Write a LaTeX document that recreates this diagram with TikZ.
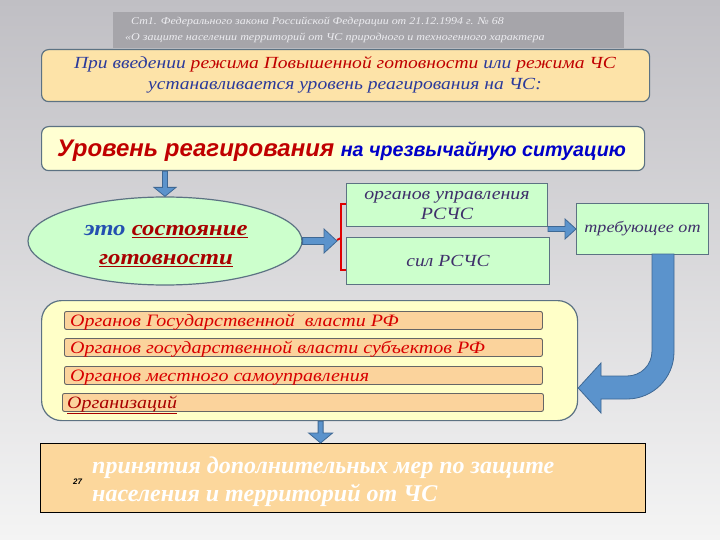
\documentclass[tikz,border=0pt]{standalone}
\usepackage{fontspec}
\setmainfont{Liberation Serif}[FakeStretch=1.15]
\newfontfamily\plainserif{Liberation Serif}
\newfontfamily\sansf{Liberation Sans}
\usetikzlibrary{calc,shapes.geometric}
\definecolor{bgtop}{HTML}{C0BFC4}
\definecolor{bgbot}{HTML}{F4F4F4}
\definecolor{hdrfill}{HTML}{A6A5AA}
\definecolor{hdrtext}{HTML}{ECECF0}
\definecolor{edge}{HTML}{5C7283}
\definecolor{orA}{HTML}{FDE3A8}
\definecolor{orB}{HTML}{FBD39C}
\definecolor{orC}{HTML}{FCD79C}
\definecolor{yelA}{HTML}{FFFFD2}
\definecolor{yelB}{HTML}{FFFFC8}
\definecolor{grn}{HTML}{CCFFCC}
\definecolor{arrfill}{HTML}{5B93CC}
\definecolor{arredge}{HTML}{3E6894}
\definecolor{txred}{HTML}{C00000}
\definecolor{txdred}{HTML}{A80000}
\definecolor{txblue}{HTML}{2B3A9B}
\definecolor{txsblue}{HTML}{0000C8}
\definecolor{txpur}{HTML}{3F2F6A}
\definecolor{txeto}{HTML}{2450B0}
\definecolor{brred}{HTML}{E00000}
\definecolor{barred}{HTML}{D80000}
\tikzset{
  rbox/.style={draw=edge, line width=1.2pt, rounded corners=7pt, anchor=north west, inner sep=0pt},
  gbox/.style={draw=edge, line width=1pt, fill=grn, anchor=north west, inner sep=0pt, align=center, text=txpur},
  barbox/.style={draw=black!60, line width=0.9pt, fill=orB, rounded corners=2pt, anchor=north west, inner sep=0pt, minimum width=478pt, minimum height=18pt},
  bartext/.style={anchor=base west, text=barred, inner sep=0pt, font=\fontsize{17.4}{19}\selectfont\itshape},
  bottext/.style={anchor=base west, inner sep=0pt, text=white, font=\plainserif\fontsize{24}{28}\selectfont\bfseries\itshape},
  barrow/.style={fill=arrfill, draw=arredge, line width=0.8pt, line join=miter},
}
\begin{document}
\begin{tikzpicture}[x=1pt,y=-1pt]
\useasboundingbox (0,0) rectangle (720,540);
\shade[top color=bgtop, bottom color=bgbot] (0,0) rectangle (720,540);

% header
\node[fill=hdrfill, anchor=north west, minimum width=511pt, minimum height=36pt, inner sep=0pt] (hdr) at (113,12) {};
\node[anchor=base west, inner sep=0pt, text=hdrtext, font=\fontsize{10.4}{12}\selectfont\itshape] (hdr1) at (131,25) {Ст1. Федерального закона Российской Федерации от 21.12.1994 г. № 68};
\node[anchor=base west, inner sep=0pt, text=hdrtext, font=\fontsize{10.5}{12}\selectfont\itshape] (hdr2) at (125,41) {«О защите населении территорий от ЧС природного и техногенного характера};

% intro box
\node[rbox, fill=orA, minimum width=608pt, minimum height=52pt] (intro) at (41,49) {};
\node[inner sep=0pt, align=center, font=\fontsize{17}{21}\selectfont\itshape, text=txblue] (introtxt) at (345,75)
 {При введении \textcolor{txred}{режима Повышенной готовности} или \textcolor{txred}{режима ЧС}\\устанавливается уровень реагирования на ЧС:};

% level box
\node[rbox, fill=yelA, minimum width=603pt, minimum height=44pt] (lvl) at (41,126) {};
\node[anchor=base west, inner sep=0pt] (lvltxt) at (57,157)
 {\sansf\bfseries\itshape\fontsize{24}{26}\selectfont\textcolor{txred}{Уровень реагирования} \fontsize{19.7}{22}\selectfont\textcolor{txsblue}{на чрезвычайную ситуацию}};

% ellipse
\node[ellipse, draw=edge, line width=1.2pt, fill=grn, minimum width=274pt, minimum height=88pt, inner sep=0pt] (ell) at (165,241) {};
\node[inner sep=0pt, align=center, font=\fontsize{21.5}{29}\selectfont\bfseries\itshape] (elltxt) at (166,246)
 {\textcolor{txeto}{это} \textcolor{txdred}{\underline{состояние}}\\\textcolor{txdred}{\underline{готовности}}};

% bracket
\coordinate (brmid) at (337,240);
\draw[brred, line width=2.6pt, line cap=butt] (346,204) -- (341,204) -- (341,270) -- (346,270);
\draw[brred, line width=2pt] (341,238) -- (brmid);

% green boxes
\node[gbox, minimum width=201pt, minimum height=43pt, font=\fontsize{17.3}{20}\selectfont\itshape] (org) at (346,183) {органов управления\\РСЧС};
\node[gbox, minimum width=203pt, minimum height=47pt, font=\fontsize{17}{20}\selectfont\itshape] (sil) at (346,237) {сил РСЧС};
\node[gbox, minimum width=132pt, minimum height=51pt, font=\fontsize{15.7}{18}\selectfont\itshape] (req) at (576,203) {требующее от};

% big box with bars
\node[rbox, fill=yelB, rounded corners=20pt, minimum width=536pt, minimum height=120pt] (big) at (41,300) {};
\node[barbox] (b1) at (64,311) {};
\node[barbox] (b2) at (64,338) {};
\node[barbox] (b3) at (64,366) {};
\node[barbox, minimum width=481pt] (b4) at (62,393) {};
\node[bartext] (t1) at (70,326) {Органов Государственной \ власти РФ};
\node[bartext] (t2) at (70,353) {Органов государственной власти субъектов РФ};
\node[bartext] (t3) at (70,381) {Органов местного самоуправления};
\node[bartext, text=txdred] (t4) at (67,408) {\underline{Организаций}};

% bottom box
\node[draw=black, line width=1pt, fill=orC, anchor=north west, minimum width=605pt, minimum height=69pt, inner sep=0pt] (bot) at (40,443) {};
\node[anchor=base west, inner sep=0pt, font=\sansf\bfseries\itshape\fontsize{8}{9}\selectfont] (pg) at (73,484) {27};
\node[bottext] (bot1) at (92,473) {принятия дополнительных мер по защите};
\node[bottext] (bot2) at (92,501) {населения и территорий от ЧС};

% block arrows
\coordinate (a1s) at (ell.north |- lvl.south);
\draw[barrow] let \p1=(a1s), \p2=(ell.north) in
  (\x1-2.5pt,\y1) -- (\x1-2.5pt,\y2+9pt) -- (\x1-11pt,\y2+9pt) -- (\x1,\y2) -- (\x1+11pt,\y2+9pt) -- (\x1+2.5pt,\y2+9pt) -- (\x1+2.5pt,\y1) -- cycle;
\draw[barrow] let \p1=(ell.east), \p2=(brmid) in
  (\x1,\y1+3.5pt) -- (\x2-13pt,\y1+3.5pt) -- (\x2-13pt,\y1+12pt) -- (\x2,\y1) -- (\x2-13pt,\y1-12pt) -- (\x2-13pt,\y1-3.5pt) -- (\x1,\y1-3.5pt) -- cycle;
\coordinate (a3s) at (req.west -| org.east);
\draw[barrow] let \p1=(a3s), \p2=(req.west) in
  (\x1,\y1+2.5pt) -- (\x2-11pt,\y1+2.5pt) -- (\x2-11pt,\y1+10pt) -- (\x2,\y1) -- (\x2-11pt,\y1-10pt) -- (\x2-11pt,\y1-2.5pt) -- (\x1,\y1-2.5pt) -- cycle;
\coordinate (a4s) at ($(big.south)+(11,0)$);
\coordinate (a4e) at (a4s |- bot.north);
\draw[barrow] let \p1=(a4s), \p2=(a4e) in
  (\x1-2.5pt,\y1) -- (\x1-2.5pt,\y2+10pt) -- (\x1-12pt,\y2+10pt) -- (\x1,\y2) -- (\x1+12pt,\y2+10pt) -- (\x1+2.5pt,\y2+10pt) -- (\x1+2.5pt,\y1) -- cycle;
% curved arrow from req to big
\draw[barrow] (652,254) -- (674,254) -- (674,352) .. controls (674,378) and (653,399) .. (627,399)
  -- (601,399) -- (601,413) -- (big.east |- 0,388) -- (601,363) -- (601,376) -- (627,376)
  .. controls (641,376) and (652,365) .. (652,351) -- cycle;
\end{tikzpicture}
\end{document}
